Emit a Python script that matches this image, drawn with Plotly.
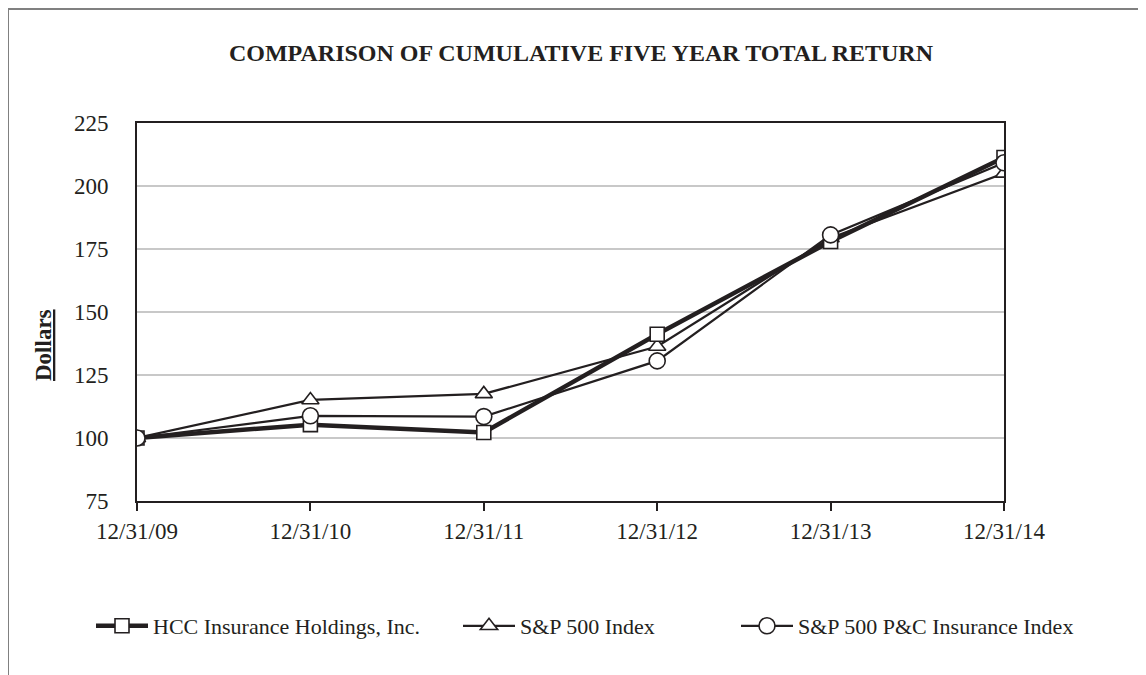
import plotly.graph_objects as go

dates = ["12/31/09", "12/31/10", "12/31/11", "12/31/12", "12/31/13", "12/31/14"]
hcc = [100, 105.3, 102.2, 141.2, 178.0, 211.3]
sp500 = [100, 115.1, 117.5, 136.3, 179.4, 205.0]
pc_ins = [100, 108.8, 108.5, 130.6, 180.6, 209.2]

y_ticks = [75, 100, 125, 150, 175, 200, 225]

FONT = "Liberation Serif, Times New Roman, serif"
BLACK = "#231f20"

x_idx = list(range(len(dates)))

fig = go.Figure()
fig.add_trace(go.Scatter(
    x=x_idx, y=sp500, name="S&P 500 Index", mode="lines+markers",
    line=dict(color=BLACK, width=2.2),
    marker=dict(symbol="triangle-up", size=15, color="white", line=dict(color=BLACK, width=1.6)),
    legend="legend2",
))
fig.add_trace(go.Scatter(
    x=x_idx, y=hcc, name="HCC Insurance Holdings, Inc.", mode="lines+markers",
    line=dict(color=BLACK, width=4.5),
    marker=dict(symbol="square", size=14, color="white", line=dict(color=BLACK, width=1.6)),
    legend="legend",
))
fig.add_trace(go.Scatter(
    x=x_idx, y=pc_ins, name="S&P 500 P&C Insurance Index", mode="lines+markers",
    line=dict(color=BLACK, width=2.2),
    marker=dict(symbol="circle", size=16, color="white", line=dict(color=BLACK, width=1.6)),
    legend="legend3",
))

OFF = 7  # page offset of the figure
W, H = 1146, 675
L, R, T, B = 136 - OFF, 150, 122 - OFF, 182
pw = W - L - R
ph = H - T - B

def px_x(p):
    return (p - OFF - L) / pw

def px_y(p):
    return (H - B - (p - OFF)) / ph

legend_common = dict(orientation="h", yanchor="middle", xanchor="left",
                     font=dict(family=FONT, size=22, color=BLACK),
                     itemwidth=52,
                     bgcolor="rgba(0,0,0,0)", y=px_y(625))

fig.update_layout(
    width=W, height=H,
    margin=dict(l=L, r=R, t=T, b=B),
    paper_bgcolor="white", plot_bgcolor="white",
    font=dict(family=FONT, size=22, color=BLACK),
    showlegend=True,
    legend=dict(x=px_x(90), **legend_common),
    legend2=dict(x=px_x(457), **legend_common),
    legend3=dict(x=px_x(735), **legend_common),
    title=dict(text="<b>COMPARISON OF CUMULATIVE FIVE YEAR TOTAL RETURN</b>",
               x=0.5, xanchor="center", y=1 - (52 - OFF) / H, yanchor="middle",
               font=dict(family=FONT, size=24, color=BLACK)),
    xaxis=dict(
        range=[0, 5], tickmode="array", tickvals=x_idx, ticktext=dates,
        showgrid=False, zeroline=False,
        showline=True, linecolor=BLACK, linewidth=2, mirror=True,
        ticks="outside", ticklen=8, tickwidth=2, tickcolor=BLACK,
        tickfont=dict(family=FONT, size=23, color=BLACK),
    ),
    yaxis=dict(
        range=[75, 225], tickmode="array", tickvals=y_ticks,
        showgrid=True, gridcolor="#c8c8c8", gridwidth=1.5, zeroline=False,
        showline=True, linecolor=BLACK, linewidth=2, mirror=True,
        ticks="", ticklabelstandoff=22,
        tickfont=dict(family=FONT, size=23, color=BLACK),
    ),
    annotations=[dict(
        text="<b><u>Dollars</u></b>", xref="paper", yref="paper",
        x=px_x(42), y=px_y(344), textangle=-90, showarrow=False,
        xanchor="center", yanchor="middle",
        font=dict(family=FONT, size=23, color=BLACK),
    )],
    shapes=[dict(
        type="rect", xref="paper", yref="paper",
        x0=px_x(7), x1=px_x(1300), y0=px_y(760), y1=px_y(8),
        line=dict(color="#808080", width=2), layer="below",
    )],
)

fig.write_html("out.html")
